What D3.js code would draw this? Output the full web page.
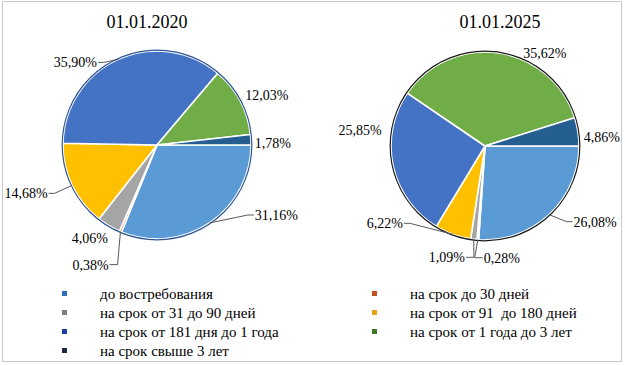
<!DOCTYPE html>
<html>
<head>
<meta charset="utf-8">
<script src="https://cdn.jsdelivr.net/npm/d3@7"></script>
<style>
  body { margin: 0; background: #fff; }
  svg text { font-family: "Liberation Serif", "Times New Roman", serif; fill: #000; }
</style>
</head>
<body>
<svg id="chart" width="625" height="365"></svg>
<script>
// categories (legend order = slice order, clockwise from 3 o'clock)
const categories = [
  "до востребования",
  "на срок до 30 дней",
  "на срок от 31 до 90 дней",
  "на срок от 91  до 180 дней",
  "на срок от 181 дня до 1 года",
  "на срок от 1 года до 3 лет",
  "на срок свыше 3 лет"
];
const titles = ["01.01.2020", "01.01.2025"];
const values2020 = [31.16, 0.38, 4.06, 14.68, 35.90, 12.03, 1.78];
const values2025 = [26.08, 0.28, 1.09, 6.22, 25.85, 35.62, 4.86];

const colors = ["#5B9BD5", "#E0622A", "#A5A5A5", "#FFC000", "#4472C4", "#70AD47", "#255E91"];
const legendColors = ["#2E6FB8", "#C8501E", "#7F7F7F", "#E8A010", "#1F3FA0", "#3E7A20", "#1C2A48"];

// label placement relative to slice midpoint on the rim: [dx, dy, leader]
const labelPos2020 = [[67, -8, 1], [-30, 33, 2], [-19, 12, 0], [-46, 8, 1], [-43, 3, 1], [27, -6, 0], [22, 3, 0]];
const labelPos2025 = [[46, 7, 1], [24, 18, 2], [-27, 18, 2], [-68, -11, 1], [-33, -36, 0], [46, 0, 0], [24, 5, 0]];

const svg = d3.select("#chart");

// outer frame
svg.append("rect")
  .attr("x", 2.5).attr("y", 1.5)
  .attr("width", 619).attr("height", 360)
  .attr("fill", "none")
  .attr("stroke", "#c8c8c8");

const fmt = v => d3.format(".2f")(v).replace(".", ",") + "%";

const pie = d3.pie()
  .sort(null)
  .value(d => d)
  .startAngle(Math.PI / 2)
  .endAngle(Math.PI / 2 + 2 * Math.PI);

const r = 94;
const arc = d3.arc().innerRadius(0).outerRadius(r);
const rim = d3.arc().innerRadius(r).outerRadius(r);

function drawPie(cx, cy, titleX, title, values, labelPos, outline) {
  const g = svg.append("g").attr("transform", `translate(${cx},${cy})`);

  svg.append("text")
    .attr("x", titleX)
    .attr("y", 28)
    .attr("text-anchor", "middle")
    .style("font-size", "18px")
    .text(title);

  const arcs = pie(values);

  g.selectAll("path.slice")
    .data(arcs)
    .join("path")
    .attr("class", "slice")
    .attr("d", arc)
    .attr("fill", (d, i) => colors[i])
    .attr("stroke", "#fff")
    .attr("stroke-width", 1.6)
    .attr("stroke-linejoin", "round");

  g.append("circle")
    .attr("r", r + 0.8)
    .attr("fill", "none")
    .attr("stroke", outline)
    .attr("stroke-width", 1.2);

  arcs.forEach((d, i) => {
    const [px, py] = rim.centroid(d);
    const [dx, dy, leader] = labelPos[i];
    const lx = px + dx, ly = py + dy;
    const text = g.append("text")
      .attr("x", lx).attr("y", ly)
      .attr("dy", "0.35em")
      .attr("text-anchor", "middle")
      .style("font-size", "14px")
      .text(fmt(values[i]));
    if (leader) {
      const w = text.node().getComputedTextLength();
      const side = dx < 0 ? 1 : -1;
      const ex = lx + side * (w / 2 + 1);
      const bend = leader === 2 ? 8 : 6;
      const pts = [[px, py], [ex + side * bend, ly], [ex, ly]];
      g.insert("path", "text")
        .attr("d", d3.line()(pts))
        .attr("fill", "none")
        .attr("stroke", "#595959")
        .attr("stroke-width", 1);
    }
  });
}

drawPie(157, 145, 147, titles[0], values2020, labelPos2020, "#2F5597");
drawPie(485, 146, 500, titles[1], values2025, labelPos2025, "#1a1a1a");

// legend, two columns
const legend = svg.append("g");
categories.forEach((c, i) => {
  const col = i % 2, row = Math.floor(i / 2);
  const x = col === 0 ? 62 : 372;
  const y = 294 + row * 19;
  legend.append("rect")
    .attr("x", x).attr("y", y - 3)
    .attr("width", 5).attr("height", 5)
    .attr("fill", legendColors[i]);
  legend.append("text")
    .attr("x", x + 38).attr("y", y)
    .attr("dy", "0.35em")
    .style("font-size", "15px")
    .style("white-space", "pre")
    .text(c);
});
</script>
</body>
</html>
